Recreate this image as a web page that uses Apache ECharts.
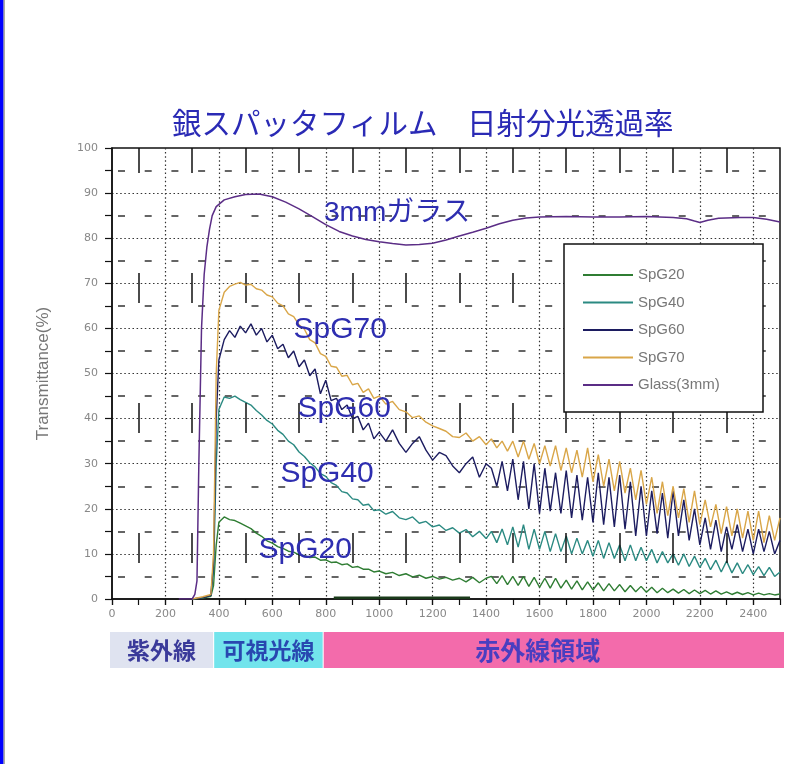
<!DOCTYPE html>
<html>
<head>
<meta charset="utf-8">
<script src="https://cdn.jsdelivr.net/npm/echarts@6.0.0/dist/echarts.min.js"></script>
<style>
html,body{margin:0;padding:0;background:#fff;}
#chart{width:794px;height:764px;}
</style>
</head>
<body>
<div id="chart"></div>
<script>
// ---------- data ----------
const filmWl = [300,340,370,380,390,
 400,420,440,460,480,500,520,540,560,580,600,620,640,660,680,700,720,740,760,780,800,820,840,860,880,900,920,940,960,980,1000,
 1025,1050,1075,1100,1125,1150,1175,1200,1225,1250,1275,1300,1325,1350,1375,1400,
 1420,1440,1460,1480,1500,1520,1540,1560,1580,1600,1620,1640,1660,1680,1700,1720,1740,1760,1780,1800,
 1820,1840,1860,1880,1900,1920,1940,1960,1980,2000,2020,2040,2060,2080,2100,2120,2140,2160,2180,2200,
 2220,2240,2260,2280,2300,2320,2340,2360,2380,2400,2420,2440,2460,2480,2500];

const spg20 = [0,0.2,0.6,3,12,
 17,18.2,17.6,17.4,16.8,16.2,15.6,14.6,13.9,12.9,12.4,11.6,11.2,10.6,10.4,9.8,9.6,9.2,9.3,8.6,8.7,8.1,8.2,7.6,7.8,7.0,7.2,6.6,6.6,6.0,6.2,
 5.6,5.9,5.2,5.6,4.9,5.3,4.6,5,4.4,4.8,4.2,4.6,3.8,4.8,3.6,4.6,
 5,3.4,5.2,3.2,5,3,5,2.8,4.8,2.6,4.6,2.4,4.6,2.4,4.2,2.2,4,2,3.8,2,
 3.6,1.8,3.4,1.8,3.2,1.6,3,1.6,2.8,1.5,2.6,1.4,2.4,1.4,2.2,1.3,2.1,1.2,2,1.2,
 1.9,1.1,1.8,1.1,1.6,1,1.5,1,1.4,0.9,1.3,0.9,1.2,0.9,1.1];

const spg40 = [0,0.3,0.8,6,30,
 42,44.8,44.5,45,44.2,43.6,43,41.8,40.8,39.6,38.8,37.4,36.5,35,34.2,32.6,31.6,30.2,29.3,27.8,27.2,25.8,25.2,23.8,23.5,22.2,22,20.8,21,19.6,19.8,
 18.8,19.4,18,17.6,18.2,16.8,17.2,16,16.4,15.2,15.8,14.6,15.4,13.8,15,13.4,
 15,12.5,15.5,12,16,11.5,16.5,11,15.5,11,15,10.5,14.5,10.5,14,10,13.5,10,13,9.5,
 13,9,12.5,9,12,8.5,12,8.5,11.5,8.5,11,8,10.5,8,10,7.5,10,7.2,9.5,7,
 9,6.5,8.6,6,8.4,5.8,8,5.6,7.6,5.4,7.2,5.2,7,5,6];

const spg60 = [0,0.3,0.8,8,40,
 53,57.5,59.5,58,60.5,59,61,58.5,60,57,58.5,55.5,56.5,53.5,55,51.5,53,49.5,51,45.5,48.5,44,44.5,42,43,40,40.5,37.5,39,35.5,37,
 35,37.5,34.5,32.5,34.5,36,33,30.8,32.5,31.8,29.5,28,30,31.5,27,30,
 29,25,30.5,24,31,22,30.5,20,30,19,29,19.5,28,19,28.5,18,27.5,17.5,27,17,
 28,16.5,27,16,27.5,15.5,26,14,25,14,24,14.5,23.5,13.5,24,14,22,13,20,12,
 18,11,17.5,10.5,16,11,16.5,10.5,15.5,10,15.5,10.5,15,10,13];

const spg70 = [0,0.5,1,10,50,
 64,68,69.3,69.8,70.2,69.6,69.8,68.8,68.5,67.4,67.0,65.6,65.0,63.2,62.6,60.8,59.8,57.5,56.8,54.4,53.8,51.6,51.4,49.4,49.6,47.5,47.8,45.8,46.6,44.5,45.0,
 43.2,43.8,42,41.5,40.2,40.6,39.2,38.4,37.8,37.2,36,35.8,36.8,35,36,34.2,
 35.5,33.5,35,32.8,35,31.5,35,31,34.5,30,34,29.5,34,28.5,33.5,28,33,27,33.5,26,
 32,25,31,24,30.5,23.5,29,22,28.5,21,27,19,26,18.5,25,18,24.5,17,24,16.5,
 22,16,21,14.5,20.5,14,20,13.5,19.5,13,19.5,12.5,18.5,13,18];

const glassWl = [250,300,310,318,325,335,345,355,365,375,390,420,460,500,550,600,650,700,750,800,850,900,950,1000,1050,
 1100,1150,1200,1250,1300,1350,1400,1450,1500,1550,1600,1700,1800,1900,2000,2100,2150,2180,2200,2230,2270,2350,2400,2450,2500];
const glassT = [0,0,1,4,30,60,72,78,82,85,87,88.5,89.2,89.7,89.8,89.2,88,86.5,84.8,83,81.5,80.5,79.7,79.2,78.8,
 78.5,78.6,78.9,79.6,80.5,81.3,82.2,83.2,84,84.5,84.7,84.8,84.7,84.7,84.8,84.6,84.3,83.8,83.5,84,84.4,84.6,84.6,84.2,83.6];

// dark trace lying on the zero line
const zeroWl = [830, 1340];
const zeroT = [0.3, 0.3];

const seriesNames = ['SpG20','SpG40','SpG60','SpG70','Glass(3mm)'];
const seriesColors = ['#2f7d33','#2b8a82','#1c1c60','#d9a648','#5b2d86'];

// in-plot annotations
const annoText = ['3mmガラス','SpG70','SpG60','SpG40','SpG20'];
const annoX = [1067, 854, 869, 805, 723];
const annoY = [85.6, 59.6, 42.1, 27.7, 10.9];
const annoSize = [28, 30, 30, 30, 30];

// tick labels / grid marks
const xTickStep = 200;
const yTickStep = 10;
const oddHundreds = [100,300,500,700,900,1100,1300,1500,1700,1900,2100,2300];

// wavelength bands below the axis
const bandNames = ['紫外線','可視光線','赤外線領域'];
const bandFrom = [-8, 382, 792];
const bandTo = [378, 788, 2515];
const bandColors = ['#dfe3f0','#72e4ec','#f36bab'];
const bandTextColors = ['#3a3a9a','#2848b0','#4a3ec0'];

// ---------- chart ----------
const pairs = (xs, ys) => xs.map((x, i) => [x, ys[i]]);
const chart = echarts.init(document.getElementById('chart'), null, {renderer: 'canvas'});

const lineSeries = [spg20, spg40, spg60, spg70].map((vals, i) => ({
  name: seriesNames[i], type: 'line', xAxisIndex: 0, yAxisIndex: 0,
  data: pairs(filmWl, vals), symbol: 'none', showSymbol: false,
  lineStyle: {width: 1.4, color: seriesColors[i]}, itemStyle: {color: seriesColors[i]},
  emphasis: {disabled: true}, z: 3 + i
}));
lineSeries.push({
  name: seriesNames[4], type: 'line', xAxisIndex: 0, yAxisIndex: 0,
  data: pairs(glassWl, glassT), symbol: 'none', showSymbol: false,
  lineStyle: {width: 1.5, color: seriesColors[4]}, itemStyle: {color: seriesColors[4]},
  emphasis: {disabled: true}, z: 8
});

const option = {
  animation: false,
  backgroundColor: '#ffffff',
  title: {
    text: '銀スパッタフィルム　日射分光透過率',
    left: 167, top: 103,
    textStyle: {fontFamily: 'Noto Sans CJK JP', fontSize: 29.5, fontWeight: 'normal', color: '#2a2ab5'}
  },
  legend: {
    data: seriesNames, orient: 'vertical', left: 564, top: 244, z: 100, zlevel: 0,
    icon: 'rect', itemWidth: 50, itemHeight: 2, itemGap: 11.5,
    padding: [23, 25, 19, 19],
    backgroundColor: '#ffffff', borderColor: '#111', borderWidth: 1.5,
    textStyle: {color: '#777', fontSize: 15, lineHeight: 16, width: 100, fontFamily: 'Liberation Sans'},
    selectedMode: false
  },
  grid: [
    {left: 112, right: 14, top: 148, bottom: 165, show: true, borderColor: '#111', borderWidth: 1.5, backgroundColor: 'transparent'},
    {left: 110, right: 10, top: 632, height: 36}
  ],
  xAxis: [
    {
      gridIndex: 0, type: 'value', min: 0, max: 2500, interval: xTickStep,
      axisLine: {show: true, onZero: false, lineStyle: {color: '#111', width: 1.5}},
      axisTick: {show: true, inside: false, length: 6, lineStyle: {color: '#111', width: 1.2}},
      axisLabel: {color: '#888', fontSize: 11, margin: 10, showMaxLabel: false, fontFamily: 'DejaVu Sans',
        formatter: v => String(v)},
      splitLine: {show: true, showMinLine: false, showMaxLine: false,
        lineStyle: {color: '#333', width: 1.2, type: [1.5, 2.6]}}
    },
    {
      gridIndex: 0, type: 'value', min: 0, max: 2500, interval: 100, position: 'bottom',
      axisLine: {show: false}, axisLabel: {show: false}, splitLine: {show: false},
      axisTick: {show: true, inside: false, length: 6, lineStyle: {color: '#111', width: 1.2}}
    },
    {gridIndex: 1, type: 'value', min: -8, max: 2515, show: false}
  ],
  yAxis: [
    {
      gridIndex: 0, type: 'value', min: 0, max: 100, interval: yTickStep,
      name: 'Transmittance(%)', nameLocation: 'middle', nameGap: 60,
      nameTextStyle: {color: '#777', fontSize: 17, fontFamily: 'Liberation Sans'},
      axisLine: {show: true, onZero: false, lineStyle: {color: '#111', width: 1.5}},
      axisTick: {show: true, inside: false, length: 7, lineStyle: {color: '#111', width: 1.2}},
      minorTick: {show: true, splitNumber: 2, length: 7, lineStyle: {color: '#111', width: 1.2}},
      minorSplitLine: {show: true, lineStyle: {color: '#333', width: 1.5, type: [7, 19.7], dashOffset: 20.7}},
      axisLabel: {color: '#888', fontSize: 11, margin: 14, fontFamily: 'DejaVu Sans'},
      splitLine: {show: true, showMinLine: false, showMaxLine: false,
        lineStyle: {color: '#333', width: 1.2, type: [1.5, 2.6]}}
    },
    {gridIndex: 1, type: 'value', min: 0, max: 1, show: false}
  ],
  graphic: [
    {type: 'rect', shape: {x: 0, y: 0, width: 3.6, height: 764}, style: {fill: '#0000ff'}, z: 100},
    {type: 'rect', shape: {x: 3.6, y: 0, width: 1.2, height: 764}, style: {fill: '#9a9a8a'}, z: 100}
  ],
  series: lineSeries.concat([
    {
      name: 'zero', type: 'line', xAxisIndex: 0, yAxisIndex: 0,
      data: pairs(zeroWl, zeroT), symbol: 'none', lineStyle: {width: 2.5, color: '#1a3a1a'}, z: 9
    },
    {
      name: 'gridmarks', type: 'line', xAxisIndex: 0, yAxisIndex: 0, data: [], z: 1,
      markLine: {
        silent: true, symbol: ['none', 'none'], label: {show: false}, animation: false,
        lineStyle: {color: '#111', width: 1.5, type: [30, 100], dashOffset: 94},
        emphasis: {disabled: true},
        data: oddHundreds.map(v => ({xAxis: v}))
      }
    },
    {
      name: 'annotations', type: 'scatter', xAxisIndex: 0, yAxisIndex: 0,
      data: annoX.map((x, i) => ({
        value: [x, annoY[i]],
        label: {fontSize: annoSize[i]}
      })),
      symbolSize: 0, silent: true, z: 20,
      itemStyle: {opacity: 1},
      label: {
        show: true, position: 'inside',
        formatter: p => annoText[p.dataIndex],
        color: '#2e2eb0', fontFamily: 'Liberation Sans, Noto Sans CJK JP'
      }
    },
    {
      name: 'bands', type: 'line', xAxisIndex: 2, yAxisIndex: 1, data: [[0, 0]], symbol: 'none',
      lineStyle: {opacity: 0},
      markArea: {
        silent: true,
        data: bandNames.map((n, i) => ([
          {xAxis: bandFrom[i], name: n, itemStyle: {color: bandColors[i]},
           label: {color: bandTextColors[i], fontSize: i === 2 ? 25 : 23, offset: i === 2 ? [-16, 0] : [0, 0]}},
          {xAxis: bandTo[i]}
        ])),
        label: {show: true, position: 'inside', fontWeight: 'bold', fontFamily: 'Noto Sans CJK JP'}
      }
    }
  ])
};
chart.setOption(option);
</script>
</body>
</html>
